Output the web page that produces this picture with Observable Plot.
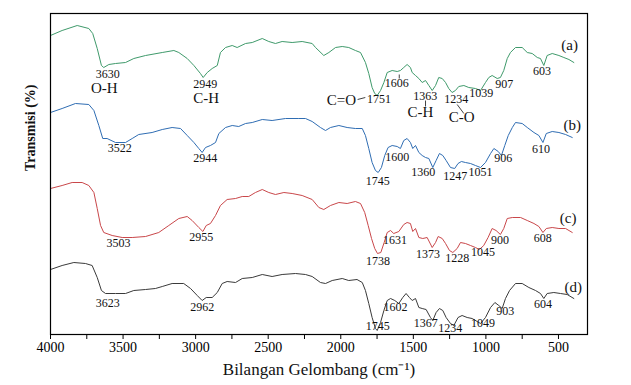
<!DOCTYPE html>
<html><head><meta charset="utf-8">
<script src="https://cdn.jsdelivr.net/npm/d3@7"></script>
<script src="https://cdn.jsdelivr.net/npm/@observablehq/plot@0.6"></script>
<style>body{margin:0;background:#fff}</style>
</head><body><div id="chart"></div>
<script>
// Wavenumbers (cm-1) and transmission (arbitrary, offset) for each spectrum
const wA = [4000,3920,3816,3736,3709,3678,3649,3633,3598,3552,3483,3426,3345,3230,3150,3116,3058,3012,2967,2948,2920,2886,2851,2829,2794,2748,2714,2656,2610,2541,2496,2450,2404,2335,2266,2197,2174,2117,2082,2036,1990,1945,1899,1864,1830,1807,1784,1766,1749,1726,1703,1680,1646,1611,1589,1566,1543,1520,1508,1485,1462,1439,1416,1393,1370,1347,1325,1301,1278,1256,1233,1210,1187,1152,1118,1072,1037,1003,980,957,922,900,877,853,831,796,750,715,681,646,624,601,578,543,497,463,428,394];
const tA = [299,304,309,306,301,286,269,267,270,271,272,276,279,282,284,282,276,269,261,257,262,266,269,282,287,289,287,291,292,296,293,291,293,292,293,291,287,279,282,287,288,287,284,282,272,261,247,241,239,244,252,262,264,263,264,267,270,267,262,259,256,252,254,249,244,249,257,256,252,246,242,244,248,249,247,246,244,252,257,259,256,257,264,276,282,287,287,282,281,277,276,269,279,281,279,277,275,272];

const wB = [4000,3920,3828,3736,3701,3667,3640,3610,3552,3483,3437,3392,3300,3230,3162,3104,3058,3012,2978,2955,2932,2898,2863,2840,2794,2748,2703,2656,2610,2541,2473,2381,2289,2243,2197,2140,2105,2071,2013,1956,1899,1852,1830,1807,1784,1761,1742,1720,1697,1674,1646,1611,1589,1566,1543,1520,1504,1485,1462,1439,1416,1393,1366,1343,1320,1297,1274,1244,1215,1192,1169,1141,1106,1072,1037,1003,968,945,915,893,870,846,818,796,750,715,669,635,607,584,543,497,451,405];
const tB = [222,226,231,230,224,209,196,196,192,192,196,200,202,205,207,206,199,192,186,182,187,189,192,201,207,209,208,211,212,215,214,216,216,216,213,207,204,207,209,207,206,206,199,186,172,164,162,167,179,187,189,188,186,194,196,192,186,189,182,179,177,176,167,174,181,179,174,167,166,171,173,172,171,169,167,172,181,186,183,179,189,199,207,212,211,207,202,199,192,201,203,202,200,197];

const wC = [4000,3920,3851,3782,3736,3701,3678,3655,3633,3575,3506,3437,3345,3254,3185,3116,3058,3024,2978,2950,2927,2898,2863,2829,2783,2725,2679,2634,2588,2541,2496,2450,2392,2335,2266,2197,2151,2117,2071,2013,1956,1899,1864,1835,1811,1788,1766,1747,1724,1701,1680,1657,1635,1600,1566,1543,1520,1504,1485,1462,1435,1405,1370,1347,1329,1301,1278,1251,1228,1198,1175,1141,1106,1072,1045,1015,985,957,930,900,877,853,818,761,715,669,635,607,584,543,497,451,405];
const tC = [146,149,152,152,149,142,126,109,102,99,97,97,98,102,109,116,118,114,107,103,109,111,119,129,135,136,138,138,142,145,142,140,142,141,139,135,127,125,129,132,131,133,131,122,109,96,86,81,82,92,102,104,101,103,110,112,111,103,106,97,96,97,87,92,98,96,91,84,82,86,92,91,89,87,85,89,97,106,104,100,106,116,117,117,114,111,108,102,106,107,106,106,102];

const wD = [4000,3920,3839,3759,3713,3678,3649,3621,3552,3483,3426,3345,3277,3230,3162,3082,3035,2989,2955,2927,2886,2851,2817,2783,2725,2679,2610,2541,2473,2404,2312,2243,2197,2140,2105,2059,1990,1945,1888,1852,1830,1807,1784,1761,1749,1726,1703,1680,1657,1628,1600,1573,1550,1527,1508,1485,1462,1439,1412,1382,1366,1343,1320,1297,1274,1244,1221,1192,1164,1129,1095,1060,1037,1003,968,938,911,888,865,837,796,750,704,658,624,601,578,532,486,440,394];
const tD = [65,69,72,71,69,57,44,41,41,41,44,45,46,48,51,51,46,39,34,37,37,42,51,53,52,56,57,60,58,60,61,60,58,52,51,54,56,54,55,52,44,31,17,6,4,12,24,34,36,34,31,37,41,37,34,36,27,26,25,17,14,22,26,24,17,11,9,17,19,17,16,13,11,17,27,32,29,26,36,44,51,51,47,44,41,36,41,42,41,40,36];

const seriesNames = ["(a)", "(b)", "(c)", "(d)"];
const seriesColors = ["#3f9a6b", "#2f6db3", "#c9474a", "#3a3a3a"];

// Peak labels: text, wavenumber position, transmission position
const peakText = ["3630","2949","1751","1606","1363","1234","1039","907","603",
                  "3522","2944","1745","1600","1360","1247","1051","906","610",
                  "3503","2955","1738","1631","1373","1228","1045","900","608",
                  "3623","2962","1745","1602","1367","1234","1049","903","604"];
const peakW = [3606,2934,1737,1614,1418,1204,1032,874,614,
               3523,2934,1746,1611,1431,1212,1037,880,620,
               3531,2961,1744,1626,1399,1197,1020,903,609,
               3606,2955,1746,1623,1414,1246,1020,867,607];
const peakT = [260,250,235,251,238,235,241,250,263,
               186,176,153,177,162,158,162,176,185,
               91,97,73,94,80,76,82,94,96,
               31,27,8,27,11,6,11,23,30];

// Functional group labels
const groupText = ["O-H", "C-H", "C=O", "C-H", "C-O"];
const groupW = [3629, 2927, 1996, 1451, 1167];
const groupT = [246, 236, 234, 222, 217];

// Series label positions
const seriesW = [423, 405, 434, 398];
const seriesT = [289, 209, 116, 47];

// Leader lines
const leaders = [
  {w1: 1884, t1: 235, w2: 1831, t2: 237},
  {w1: 1416, t1: 234, w2: 1416, t2: 228},
  {w1: 1198, t1: 230, w2: 1152, t2: 221},
  {w1: 1597, t1: 260, w2: 1597, t2: 256}
];

const xTicks = d3.range(500, 4001, 250);

const spectra = [[wA, tA], [wB, tB], [wC, tC], [wD, tD]].map(([w, t], i) =>
  w.map((x, j) => ({w: x, t: t[j], s: seriesNames[i]})));

const font = '"Liberation Serif", "Times New Roman", serif';

const marks = [];
spectra.forEach((d, i) => marks.push(Plot.line(d, {x: "w", y: "t", stroke: seriesColors[i], strokeWidth: 1})));
marks.push(Plot.frame({stroke: "#000", strokeWidth: 1.2}));
marks.push(Plot.axisX({ticks: xTicks, tickSize: 5, tickPadding: 3, fontSize: 14,
  tickFormat: d => d % 500 === 0 ? String(d) : "", label: null, stroke: "#000", color: "#000"}));
marks.push(Plot.text(peakText.map((s, i) => ({s, w: peakW[i], t: peakT[i]})),
  {x: "w", y: "t", text: "s", fontSize: 12, fill: "#111"}));
marks.push(Plot.text(groupText.map((s, i) => ({s, w: groupW[i], t: groupT[i]})),
  {x: "w", y: "t", text: "s", fontSize: 15, fill: "#111"}));
marks.push(Plot.text(seriesNames.map((s, i) => ({s, w: seriesW[i], t: seriesT[i]})),
  {x: "w", y: "t", text: "s", fontSize: 15, fill: "#111"}));
marks.push(Plot.link(leaders, {x1: "w1", y1: "t1", x2: "w2", y2: "t2", stroke: "#111", strokeWidth: 0.8}));
marks.push(Plot.text(["Bilangan Gelombang (cm⁻¹)"], {frameAnchor: "bottom", dy: 40, fontSize: 17, fill: "#111"}));
marks.push(Plot.text(["Transmisi (%)"], {frameAnchor: "left", rotate: -90, dx: -20, dy: -3, fontSize: 14, fontWeight: "bold", fill: "#111"}));

const chart = Plot.plot({
  width: 631, height: 385,
  marginTop: 13, marginRight: 44, marginBottom: 51, marginLeft: 50,
  style: {fontFamily: font, background: "#fff", color: "#000"},
  x: {domain: [4000, 300]},
  y: {domain: [0, 321], axis: null},
  marks
});
document.getElementById("chart").appendChild(chart);
</script>
</body></html>
